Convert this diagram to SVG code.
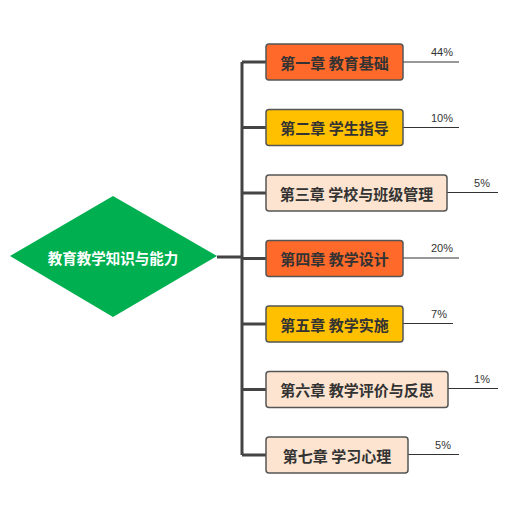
<svg xmlns="http://www.w3.org/2000/svg" width="512" height="516" viewBox="0 0 512 516">
<style>
.bx{stroke:#555;stroke-width:1.5}
.c1{fill:#FF6A2A}
.c2{fill:#FFC000}
.c3{fill:#FCE4D0}
.t{font-family:"Noto Sans CJK SC","Liberation Sans",sans-serif;font-weight:bold;font-size:15px;fill:#333;text-anchor:middle;dominant-baseline:central}
.p{font-family:"Liberation Sans","Noto Sans CJK SC",sans-serif;font-size:11px;fill:#333;text-anchor:middle}
.ln{stroke:#444;stroke-width:3;fill:none}
.pl{stroke:#333;stroke-width:1;fill:none}
</style>
<rect width="512" height="516" fill="#fff"/>
<g id="connectors">
<path class="ln" d="M217 257H242M242 62V455M242 62H266M242 127.5H266M242 193H266M242 258.5H266M242 324H266M242 389.5H266M242 455H266"/>
<path class="pl" d="M403 62H459M403 127.5H459M447 192.5H498M403 258H459M403 323.5H453M448 388.5H498M408 454.5H459"/>
</g>
<g id="root">
<polygon points="10,256 113,196 217,256 113,317" fill="#00B050"/>
<text x="113" y="257" class="t" style="fill:#fff;font-size:14.5px">教育教学知识与能力</text>
</g>
<g id="n1"><rect class="bx c1" x="266" y="44" width="137" height="36" rx="3"/><text class="t" x="334.5" y="62">第一章 教育基础</text><text class="p" x="442" y="56">44%</text></g>
<g id="n2"><rect class="bx c2" x="266" y="109.5" width="137" height="36" rx="3"/><text class="t" x="334.5" y="127.5">第二章 学生指导</text><text class="p" x="442" y="122">10%</text></g>
<g id="n3"><rect class="bx c3" x="266" y="175" width="181" height="36" rx="3"/><text class="t" x="356.5" y="193">第三章 学校与班级管理</text><text class="p" x="482" y="187">5%</text></g>
<g id="n4"><rect class="bx c1" x="266" y="240.5" width="137" height="36" rx="3"/><text class="t" x="334.5" y="258.5">第四章 教学设计</text><text class="p" x="442" y="252">20%</text></g>
<g id="n5"><rect class="bx c2" x="266" y="306" width="137" height="36" rx="3"/><text class="t" x="334.5" y="324">第五章 教学实施</text><text class="p" x="439" y="318">7%</text></g>
<g id="n6"><rect class="bx c3" x="266" y="371.5" width="182" height="36" rx="3"/><text class="t" x="357" y="389.5">第六章 教学评价与反思</text><text class="p" x="482" y="383">1%</text></g>
<g id="n7"><rect class="bx c3" x="266" y="437" width="142" height="36" rx="3"/><text class="t" x="337" y="455">第七章 学习心理</text><text class="p" x="443" y="449">5%</text></g>
</svg>
